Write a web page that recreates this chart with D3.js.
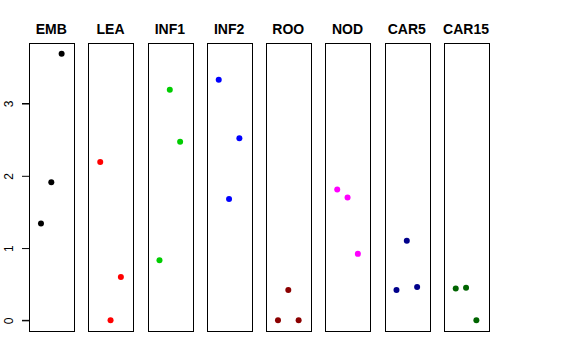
<!DOCTYPE html>
<html><head><meta charset="utf-8">
<script src="https://cdn.jsdelivr.net/npm/d3@7"></script>
<style>body{margin:0;background:#fff}</style>
</head><body>
<script>
const categories = ["EMB","LEA","INF1","INF2","ROO","NOD","CAR5","CAR15"];
const colors = ["#000000","#FF0000","#00CD00","#0000FF","#8B0000","#FF00FF","#00008B","#006400"];
const positions = [1,2,3];
const EMB = [1.34,1.91,3.69];
const LEA = [2.19,0.00,0.60];
const INF1 = [0.83,3.19,2.47];
const INF2 = [3.33,1.68,2.52];
const ROO = [0.00,0.42,0.00];
const NOD = [1.81,1.70,0.92];
const CAR5 = [0.42,1.10,0.46];
const CAR15 = [0.44,0.45,0.00];
const series = [EMB,LEA,INF1,INF2,ROO,NOD,CAR5,CAR15];
const yTicks = [0,1,2,3];

(function(){
const W=576,H=360;
const svg=d3.select("body").append("svg").attr("width",W).attr("height",H);
const plotTop=43,plotBottom=331,panelW=44.6,step=59.25,left0=29;
const y=d3.scaleLinear().domain([-0.1476,3.8376]).range([plotBottom,plotTop]);

categories.forEach((c,i)=>{
  const x0=left0+i*step;
  const x=d3.scaleLinear().domain([-0.16,4.16]).range([x0,x0+panelW]);
  const g=svg.append("g");
  g.append("rect").attr("x",Math.round(x0)+0.5).attr("y",plotTop+0.5)
    .attr("width",Math.round(panelW)).attr("height",plotBottom-plotTop)
    .attr("fill","none").attr("stroke","#000").attr("stroke-width",1);
  g.selectAll("circle").data(series[i]).join("circle")
    .attr("cx",(d,j)=>x(positions[j])).attr("cy",d=>y(d)).attr("r",3)
    .attr("fill",colors[i]);
  g.append("text").attr("x",x(2)).attr("y",34).attr("text-anchor","middle")
    .attr("font-family","Liberation Sans, Arial, sans-serif").attr("font-weight","bold")
    .attr("font-size",14).text(c);
});

const axis=d3.axisLeft(y).tickValues(yTicks).tickFormat(d3.format("d")).tickSize(7.5).tickPadding(3);
const ag=svg.append("g").attr("transform",`translate(${left0+0.5},0)`).call(axis);
ag.select(".domain").attr("d",`M-7.5,${y(0)}H0V${y(3)}H-7.5`).attr("stroke","#000");
ag.selectAll(".tick line").attr("stroke","#000");
ag.selectAll(".tick text").attr("font-family","Liberation Sans, Arial, sans-serif").attr("font-size",12)
  .attr("fill","#000").attr("text-anchor","middle").attr("dy",null).attr("x",null)
  .attr("transform","translate(-21,0) rotate(-90)").attr("dominant-baseline","central");
})();
</script>
</body></html>
